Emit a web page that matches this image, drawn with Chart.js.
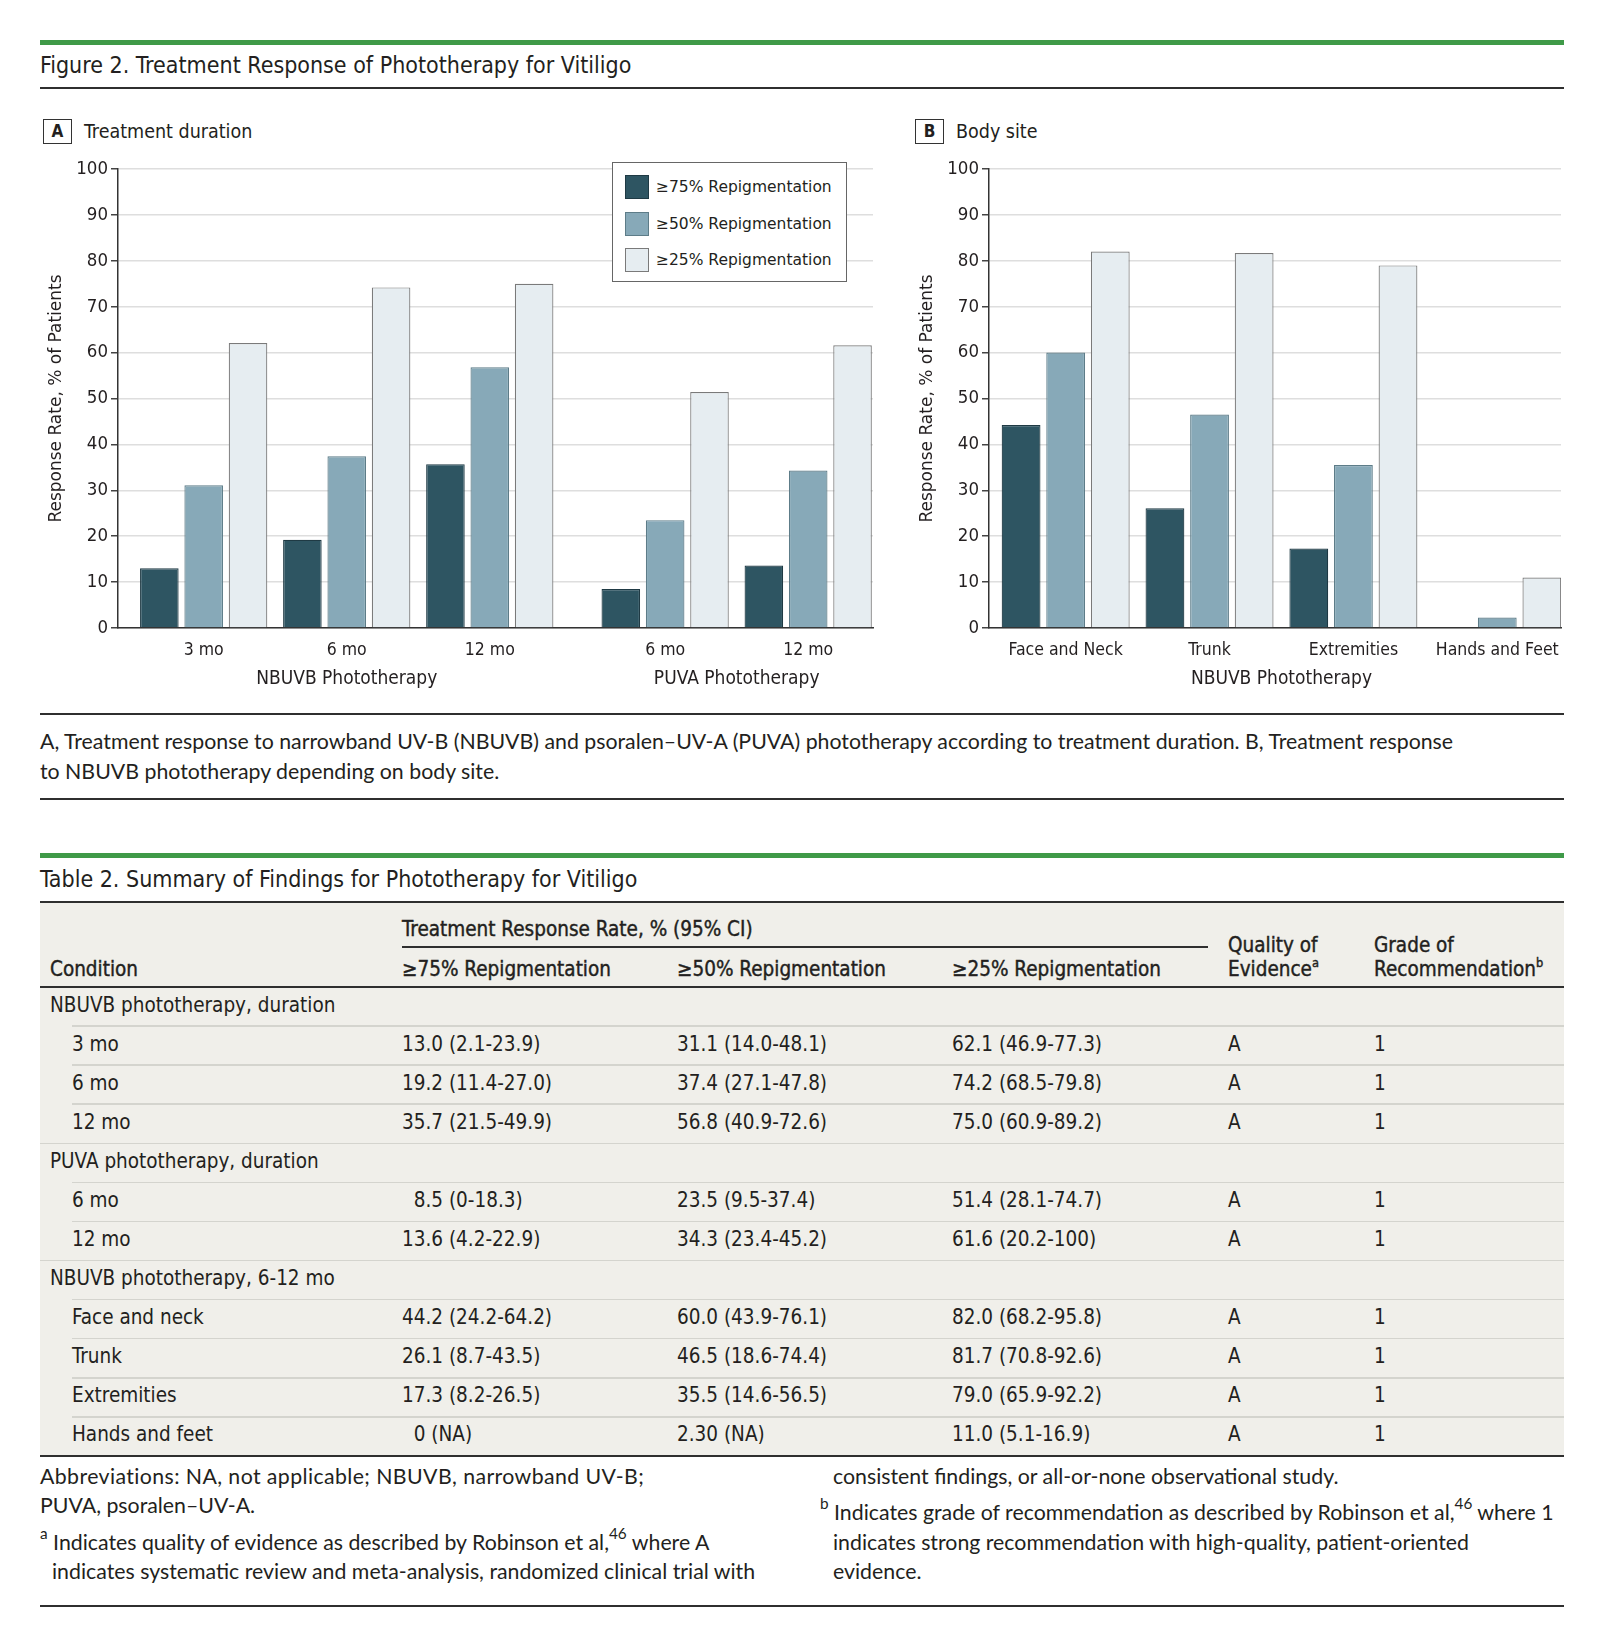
<!DOCTYPE html>
<html>
<head>
<meta charset="utf-8">
<script src="https://cdn.jsdelivr.net/npm/chart.js@4.4.1/dist/chart.umd.min.js"></script>
<style>
  :root {
    --narrow: "DejaVu Sans Condensed", "Liberation Sans Narrow", Lato, sans-serif;
    --text: Lato, "Open Sans", sans-serif;
  }
  html, body { margin: 0; padding: 0; background: #fff; }
  body { width: 1600px; height: 1637px; position: relative; overflow: hidden; color: #231f20; font-family: var(--narrow); }
  .t { position: absolute; white-space: nowrap; line-height: 30px; height: 30px; }
  .rule { position: absolute; left: 40px; width: 1524px; height: 2px; background: #2f2f2f; }
  .green { position: absolute; left: 40px; width: 1524px; height: 5px; background: #3f9a48; }
  .title { font-size: 23px; }
  .panel-box { position: absolute; width: 27px; height: 23px; border: 1.5px solid #333; font-weight: bold; font-size: 17px; text-align: center; line-height: 23px; }
  .panel-name { font-size: 19.5px; }
  canvas { position: absolute; }
  .legend { position: absolute; left: 612px; top: 162px; width: 233px; height: 118px; border: 1.2px solid #666; background: #fff; }
  .legend .sw { position: absolute; left: 12px; width: 22px; height: 22px; border: 1px solid #555; }
  .legend .lt { position: absolute; left: 43px; font-family: "DejaVu Sans", sans-serif; font-size: 15.5px; line-height: 24px; white-space: nowrap; }
  .caption { font-family: var(--text); font-size: 21.3px; }
  .tablebg { position: absolute; left: 40px; width: 1524px; top: 902px; height: 554px; background: #f0efea; }
  .tc { position: absolute; white-space: nowrap; font-size: 20.5px; line-height: 30px; height: 30px; }
  .th { -webkit-text-stroke: 0.4px #231f20; }
  .sep { position: absolute; height: 1.5px; background: #d4d4ce; }
  .foot { font-family: var(--text); font-size: 21.3px; }
  sup { font-size: 0.62em; line-height: 0; vertical-align: 0.7em; }
  .foot sup { font-size: 0.72em; }
</style>
</head>
<body>
<div class="green" style="top:40px"></div>
<div class="t title" style="left:40px; top:50px">Figure 2. Treatment Response of Phototherapy for Vitiligo</div>
<div class="rule" style="top:87px"></div>

<div class="panel-box" style="left:43px; top:119px">A</div>
<div class="t panel-name" style="left:84px; top:117px">Treatment duration</div>
<div class="panel-box" style="left:915px; top:119px">B</div>
<div class="t panel-name" style="left:956px; top:117px">Body site</div>

<canvas id="durationChart" width="845" height="560" style="left:40px; top:150px; width:845px; height:560px"></canvas>
<canvas id="siteChart" width="662" height="560" style="left:911px; top:150px; width:662px; height:560px"></canvas>
<div class="legend" id="legend"></div>

<div class="rule" style="top:713px"></div>
<div class="t caption" style="left:40px; top:726px">A, Treatment response to narrowband UV-B (NBUVB) and psoralen–UV-A (PUVA) phototherapy according to treatment duration. B, Treatment response</div>
<div class="t caption" style="left:40px; top:756px">to NBUVB phototherapy depending on body site.</div>
<div class="rule" style="top:798px"></div>

<div class="green" style="top:853px"></div>
<div class="t title" style="left:40px; top:864px">Table 2. Summary of Findings for Phototherapy for Vitiligo</div>
<div class="tablebg"></div>
<div class="rule" style="top:901px"></div>
<div id="table"></div>
<div class="rule" style="top:1455px"></div>

<div class="t foot" style="left:40px; top:1461px; letter-spacing:0.4px">Abbreviations: NA, not applicable; NBUVB, narrowband UV-B;</div>
<div class="t foot" style="left:40px; top:1490px">PUVA, psoralen–UV-A.</div>
<div class="t foot" style="left:40px; top:1527px"><sup>a</sup> Indicates quality of evidence as described by Robinson et al,<sup>46</sup> where A</div>
<div class="t foot" style="left:52px; top:1556px">indicates systematic review and meta-analysis, randomized clinical trial with</div>
<div class="t foot" style="left:833px; top:1461px">consistent findings, or all-or-none observational study.</div>
<div class="t foot" style="left:820px; top:1497px"><sup>b</sup> Indicates grade of recommendation as described by Robinson et al,<sup>46</sup> where 1</div>
<div class="t foot" style="left:833px; top:1527px">indicates strong recommendation with high-quality, patient-oriented</div>
<div class="t foot" style="left:833px; top:1556px">evidence.</div>
<div class="rule" style="top:1605px"></div>

<script>
// chart data
const seriesNames = ['≥75% Repigmentation', '≥50% Repigmentation', '≥25% Repigmentation'];

const durationLabels = ['3 mo', '6 mo', '12 mo', '6 mo', '12 mo'];
const durationGroups = ['NBUVB Phototherapy', 'NBUVB Phototherapy', 'NBUVB Phototherapy', 'PUVA Phototherapy', 'PUVA Phototherapy'];
const duration75 = [13.0, 19.2, 35.7, 8.5, 13.6];
const duration50 = [31.1, 37.4, 56.8, 23.5, 34.3];
const duration25 = [62.1, 74.2, 75.0, 51.4, 61.6];

const siteLabels = ['Face and Neck', 'Trunk', 'Extremities', 'Hands and Feet'];
const siteGroups = ['NBUVB Phototherapy', 'NBUVB Phototherapy', 'NBUVB Phototherapy', 'NBUVB Phototherapy'];
const site75 = [44.2, 26.1, 17.3, 0];
const site50 = [60.0, 46.5, 35.5, 2.3];
const site25 = [82.0, 81.7, 79.0, 11.0];

const yTicks = [0, 10, 20, 30, 40, 50, 60, 70, 80, 90, 100];

// table data
const rowNames = ['NBUVB phototherapy, duration', '3 mo', '6 mo', '12 mo',
  'PUVA phototherapy, duration', '6 mo', '12 mo',
  'NBUVB phototherapy, 6-12 mo', 'Face and neck', 'Trunk', 'Extremities', 'Hands and feet'];
const rowIsGroup = [true, false, false, false, true, false, false, true, false, false, false, false];
const col75 = ['', '13.0 (2.1-23.9)', '19.2 (11.4-27.0)', '35.7 (21.5-49.9)', '', '\u20078.5 (0-18.3)', '13.6 (4.2-22.9)',
  '', '44.2 (24.2-64.2)', '26.1 (8.7-43.5)', '17.3 (8.2-26.5)', '\u20070 (NA)'];
const col50 = ['', '31.1 (14.0-48.1)', '37.4 (27.1-47.8)', '56.8 (40.9-72.6)', '', '23.5 (9.5-37.4)', '34.3 (23.4-45.2)',
  '', '60.0 (43.9-76.1)', '46.5 (18.6-74.4)', '35.5 (14.6-56.5)', '2.30 (NA)'];
const col25 = ['', '62.1 (46.9-77.3)', '74.2 (68.5-79.8)', '75.0 (60.9-89.2)', '', '51.4 (28.1-74.7)', '61.6 (20.2-100)',
  '', '82.0 (68.2-95.8)', '81.7 (70.8-92.6)', '79.0 (65.9-92.2)', '11.0 (5.1-16.9)'];
const colQuality = ['', 'A', 'A', 'A', '', 'A', 'A', '', 'A', 'A', 'A', 'A'];
const colGrade = ['', '1', '1', '1', '', '1', '1', '', '1', '1', '1', '1'];

const fills = ['#2e5562', '#87a9b8', '#e6edf1'];
const borders = ['#1f3a44', '#5d7c88', '#7a7a7a'];
const narrowFont = getComputedStyle(document.documentElement).getPropertyValue('--narrow').trim();

Chart.defaults.font.family = narrowFont;
Chart.defaults.color = '#231f20';

// slot index for each category, with a small extra gap where the group changes
function slotPositions(groups, gap) {
  let pos = 0;
  return groups.map((g, i) => {
    pos += 1 + (i > 0 && g !== groups[i - 1] ? gap : 0);
    return pos;
  });
}

function groupLabelPlugin(groups, offset) {
  return {
    id: 'groupLabels',
    afterDraw(chart) {
      const x = chart.scales.x;
      const ctx = chart.ctx;
      const pos = x.ticks.map(t => t.value);
      ctx.save();
      ctx.font = '19px ' + narrowFont;
      ctx.fillStyle = '#231f20';
      ctx.textAlign = 'center';
      ctx.textBaseline = 'middle';
      [...new Set(groups)].forEach(name => {
        const ps = pos.filter((p, i) => groups[i] === name);
        const mid = (Math.min(...ps) + Math.max(...ps)) / 2;
        ctx.fillText(name, x.getPixelForValue(mid), chart.chartArea.bottom + offset);
      });
      ctx.restore();
    }
  };
}

function renderBarChart(id, labels, groups, values, xMin, xMax) {
  const pos = slotPositions(groups, 0.226);
  return new Chart(document.getElementById(id), {
    type: 'bar',
    data: {
      datasets: values.map((vals, k) => ({
        label: seriesNames[k],
        data: vals.map((v, i) => ({ x: pos[i], y: v })),
        backgroundColor: fills[k],
        borderColor: borders[k],
        borderWidth: 1.2,
        categoryPercentage: 0.93,
        barPercentage: 0.87
      }))
    },
    options: {
      responsive: false,
      animation: false,
      layout: { padding: { top: 19, right: 12, left: 0, bottom: 0 } },
      plugins: { legend: { display: false }, tooltip: { enabled: false } },
      scales: {
        x: {
          type: 'linear',
          min: xMin,
          max: xMax,
          offset: false,
          afterBuildTicks: s => { s.ticks = pos.map(v => ({ value: v })); },
          afterFit: s => { s.height = 82; },
          grid: { display: false, drawTicks: false, offset: false },
          border: { color: '#333', width: 1.5 },
          ticks: { callback: (v, i) => labels[i], padding: 12, autoSkip: false, maxRotation: 0, font: { size: 17.5 } }
        },
        y: {
          min: 0,
          max: 100,
          afterBuildTicks: s => { s.ticks = yTicks.map(v => ({ value: v })); },
          afterFit: s => { s.width = 78; },
          grid: { color: '#dedede', lineWidth: 1.5, tickLength: 7, tickColor: '#444' },
          border: { color: '#333', width: 1.5 },
          ticks: { padding: 3, font: { size: 18.5 } },
          title: {
            display: true,
            text: 'Response Rate, % of Patients',
            font: { family: '"DejaVu Sans", sans-serif', size: 17 },
            padding: { top: 6, bottom: 0 }
          }
        }
      }
    },
    plugins: [groupLabelPlugin(groups, 51)]
  });
}

renderBarChart('durationChart', durationLabels, durationGroups, [duration75, duration50, duration25], 0.401, 5.679);
renderBarChart('siteChart', siteLabels, siteGroups, [site75, site50, site25], 0.467, 4.443);

// legend
const legend = document.getElementById('legend');
const swatchTops = [12, 49, 85];
seriesNames.forEach((name, k) => {
  const sw = document.createElement('div');
  sw.className = 'sw';
  sw.style.top = swatchTops[k] + 'px';
  sw.style.background = fills[k];
  sw.style.borderColor = borders[k];
  legend.appendChild(sw);
  const lt = document.createElement('div');
  lt.className = 'lt';
  lt.style.top = swatchTops[k] + 'px';
  lt.textContent = name;
  legend.appendChild(lt);
});

// table
const table = document.getElementById('table');
function cell(text, x, yCenter, cls) {
  const d = document.createElement('div');
  d.className = 'tc' + (cls ? ' ' + cls : '');
  d.style.left = x + 'px';
  d.style.top = (yCenter - 15) + 'px';
  d.innerHTML = text;
  table.appendChild(d);
}
function line(x, y, w, color, h) {
  const d = document.createElement('div');
  d.className = 'sep';
  d.style.left = x + 'px';
  d.style.top = y + 'px';
  d.style.width = w + 'px';
  if (color) d.style.background = color;
  if (h) d.style.height = h + 'px';
  table.appendChild(d);
}
const colX = [50, 402, 677, 952, 1228, 1374];
cell('Treatment Response Rate, % (95% CI)', colX[1], 929, 'th');
line(402, 946, 806, '#2f2f2f', 1.5);
cell('Condition', colX[0], 969, 'th');
cell(seriesNames[0], colX[1], 969, 'th');
cell(seriesNames[1], colX[2], 969, 'th');
cell(seriesNames[2], colX[3], 969, 'th');
cell('Quality of', colX[4], 945, 'th');
cell('Evidence<sup>a</sup>', colX[4], 969, 'th');
cell('Grade of', colX[5], 945, 'th');
cell('Recommendation<sup>b</sup>', colX[5], 969, 'th');
line(40, 986, 1524, '#2f2f2f', 2);

const rowTop = 987, rowH = 39.08;
rowNames.forEach((name, i) => {
  const top = rowTop + i * rowH;
  const yc = top + rowH / 2 - 2;
  if (i > 0) {
    if (rowIsGroup[i]) line(40, top - 0.75, 1524);
    else line(72, top - 0.75, 1492);
  }
  cell(name, rowIsGroup[i] ? colX[0] : 72, yc);
  cell(col75[i], colX[1], yc);
  cell(col50[i], colX[2], yc);
  cell(col25[i], colX[3], yc);
  cell(colQuality[i], colX[4], yc);
  cell(colGrade[i], colX[5], yc);
});
</script>
</body>
</html>
